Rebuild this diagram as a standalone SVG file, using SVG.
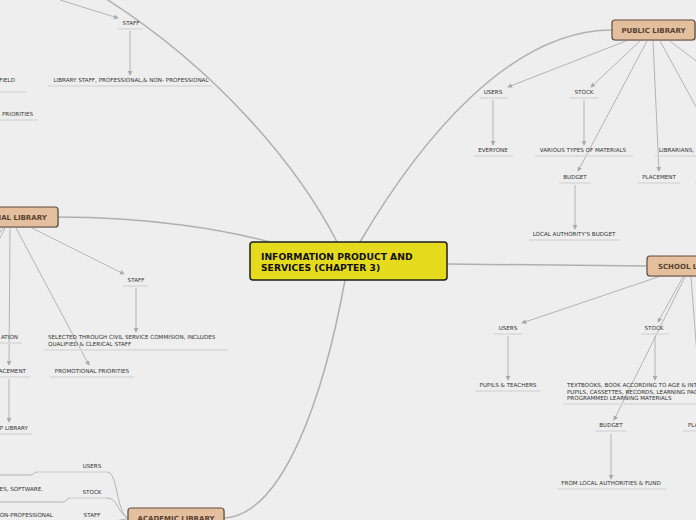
<svg xmlns="http://www.w3.org/2000/svg" width="696" height="520" viewBox="0 0 696 520">
<defs>
<marker id="ar" viewBox="0 0 6 6" refX="5" refY="3" markerWidth="5" markerHeight="5" orient="auto" markerUnits="userSpaceOnUse">
<path d="M0,0 L6,3 L0,6 z" fill="#aaaaaa"/>
</marker>
<style>
.bg{fill:#eeeeee}
.main{fill:none;stroke:#b0b0b0;stroke-width:1.5}
.con{fill:none;stroke:#b4b4b4;stroke-width:1}
.ul{fill:none;stroke:#d8d8d8;stroke-width:1.5}
.lab{font-family:"DejaVu Sans",Verdana,sans-serif;font-size:5.6px;fill:#333333}
.mid{text-anchor:middle}
.end{text-anchor:end}
.box{fill:#e3bf9d;stroke:#5e4c3c;stroke-width:1.2}
.shadow{fill:#9a9a9a;opacity:0.5}
.bt{font-family:"DejaVu Sans",Verdana,sans-serif;font-size:7px;font-weight:bold;fill:#5a4232;text-anchor:middle}
.ct{font-family:"DejaVu Sans",Verdana,sans-serif;font-size:9.2px;font-weight:bold;fill:#111111}
</style>
</defs>
<rect class="bg" x="0" y="0" width="696" height="520"/>

<g id="connectors">
<path class="main" d="M337,242 C300,170 220,70 100,-5"/>
<path class="main" d="M360,242 C420,140 510,30 612,30"/>
<path class="main" d="M58,217 C150,217 225,230 270,242"/>
<path class="main" d="M447,264 L647,266"/>
<path class="main" d="M345,280 C325,390 285,515 224,518"/>
<path class="con" d="M60,0 L118,18" marker-end="url(#ar)"/>
<path class="con" d="M130,31 L130,75" marker-end="url(#ar)"/>
<path class="con" d="M626,41 L508,87" marker-end="url(#ar)"/>
<path class="con" d="M640,41 L591,87" marker-end="url(#ar)"/>
<path class="con" d="M647,41 L578,171" marker-end="url(#ar)"/>
<path class="con" d="M653,41 L659,171" marker-end="url(#ar)"/>
<path class="con" d="M660,41 L700,114"/>
<path class="con" d="M670,41 L700,64"/>
<path class="con" d="M493,100 L493,145" marker-end="url(#ar)"/>
<path class="con" d="M584,100 L584,145" marker-end="url(#ar)"/>
<path class="con" d="M575,185 L575,229" marker-end="url(#ar)"/>
<path class="con" d="M658,277 L522,323" marker-end="url(#ar)"/>
<path class="con" d="M683,277 L658,322" marker-end="url(#ar)"/>
<path class="con" d="M685,277 L614,420" marker-end="url(#ar)"/>
<path class="con" d="M691,277 L702,420" marker-end="url(#ar)"/>
<path class="con" d="M508,336 L508,380" marker-end="url(#ar)"/>
<path class="con" d="M655,336 L655,380" marker-end="url(#ar)"/>
<path class="con" d="M611,434 L611,479" marker-end="url(#ar)"/>
<path class="con" d="M32,228 L124,274" marker-end="url(#ar)"/>
<path class="con" d="M136,288 L136,332" marker-end="url(#ar)"/>
<path class="con" d="M16,228 L89,365" marker-end="url(#ar)"/>
<path class="con" d="M10,228 L9,365" marker-end="url(#ar)"/>
<path class="con" d="M9,379 L9,422" marker-end="url(#ar)"/>
<path class="con" d="M5,228 L-2,242"/>
<path class="con" d="M3,228 L-4,238"/>
<path class="con" d="M0,475 L30,475 C34,475 33,472 38,472"/>
<path class="con" d="M107,472 C118,472 116,512 128,518"/>
<path class="con" d="M0,502 L63,502 C67,502 66,498 70,498"/>
<path class="con" d="M107,498 C118,498 118,514 128,518"/>
<path class="con" d="M107,522 C116,522 120,519 128,519"/>
</g>

<g id="center">
<rect x="250" y="242" width="197" height="38" rx="3" fill="#e6da1c" stroke="#1e1e1e" stroke-width="1.5"/>
<text class="ct" x="261" y="259.5">INFORMATION PRODUCT AND</text>
<text class="ct" x="261" y="271">SERVICES (CHAPTER 3)</text>
</g>

<g id="public-library">
<rect class="shadow" x="613" y="21" width="83" height="20" rx="3"/>
<rect class="box" x="612" y="20" width="83" height="20" rx="3"/>
<text class="bt" x="653.5" y="32.5">PUBLIC LIBRARY</text>
</g>
<g id="pub-users"><text class="lab mid" x="493" y="94">USERS</text><line class="ul" x1="480" y1="98" x2="508" y2="98"/></g>
<g id="pub-stock"><text class="lab mid" x="584" y="94">STOCK</text><line class="ul" x1="570" y1="98" x2="598" y2="98"/></g>
<g id="pub-everyone"><text class="lab mid" x="493" y="152">EVERYONE</text><line class="ul" x1="474" y1="156" x2="513" y2="156"/></g>
<g id="pub-materials"><text class="lab mid" x="583" y="152">VARIOUS TYPES OF MATERIALS</text><line class="ul" x1="535" y1="156" x2="633" y2="156"/></g>
<g id="pub-librarians"><text class="lab" x="659" y="152">LIBRARIANS,</text><line class="ul" x1="655" y1="156" x2="700" y2="156"/></g>
<g id="pub-budget"><text class="lab mid" x="575" y="179">BUDGET</text><line class="ul" x1="559" y1="183" x2="591" y2="183"/></g>
<g id="pub-placement"><text class="lab mid" x="659" y="179">PLACEMENT</text><line class="ul" x1="638" y1="183" x2="680" y2="183"/></g>
<g id="pub-right"><line class="ul" x1="695" y1="183" x2="700" y2="183"/></g>
<g id="pub-local"><text class="lab mid" x="574" y="236">LOCAL AUTHORITY'S BUDGET</text><line class="ul" x1="529" y1="240" x2="621" y2="240"/></g>

<g id="school-library">
<rect class="shadow" x="648" y="257" width="90" height="20" rx="3"/>
<rect class="box" x="647" y="256" width="90" height="20" rx="3"/>
<text class="bt" x="692" y="268.5">SCHOOL LIBRARY</text>
</g>
<g id="sch-users"><text class="lab mid" x="508" y="330">USERS</text><line class="ul" x1="494" y1="334" x2="522" y2="334"/></g>
<g id="sch-stock"><text class="lab mid" x="654" y="330">STOCK</text><line class="ul" x1="641" y1="334" x2="669" y2="334"/></g>
<g id="sch-pupils"><text class="lab mid" x="508" y="387">PUPILS &amp; TEACHERS</text><line class="ul" x1="475" y1="391" x2="541" y2="391"/></g>
<g id="sch-textbooks"><text class="lab" x="567" y="387">TEXTBOOKS, BOOK ACCORDING TO AGE &amp; INTEREST</text><text class="lab" x="567" y="393.5">PUPILS, CASSETTES, RECORDS, LEARNING PACKAGES</text><text class="lab" x="567" y="400">PROGRAMMED LEARNING MATERIALS</text><line class="ul" x1="563" y1="404" x2="700" y2="404"/></g>
<g id="sch-budget"><text class="lab mid" x="611" y="427">BUDGET</text><line class="ul" x1="595" y1="431" x2="627" y2="431"/></g>
<g id="sch-placement"><text class="lab" x="688" y="427">PLACEMENT</text><line class="ul" x1="683" y1="431" x2="720" y2="431"/></g>
<g id="sch-fund"><text class="lab mid" x="611" y="485">FROM LOCAL AUTHORITIES &amp; FUND</text><line class="ul" x1="557" y1="489" x2="666" y2="489"/></g>

<g id="national-library">
<rect class="shadow" x="-41" y="208" width="100" height="20" rx="3"/>
<rect class="box" x="-42" y="207" width="100" height="20" rx="3"/>
<text class="bt" x="9" y="219.5">NATIONAL LIBRARY</text>
</g>
<g id="nat-staff"><text class="lab mid" x="136" y="282">STAFF</text><line class="ul" x1="123" y1="286" x2="148" y2="286"/></g>
<g id="nat-selected"><text class="lab" x="48" y="339">SELECTED THROUGH  CIVIL SERVICE COMMISION, INCLUDES</text><text class="lab" x="48" y="346">QUALIFIED &amp; CLERICAL STAFF</text><line class="ul" x1="44" y1="350" x2="228" y2="350"/></g>
<g id="nat-promo"><text class="lab mid" x="92" y="373">PROMOTIONAL PRIORITIES</text><line class="ul" x1="50" y1="377" x2="134" y2="377"/></g>
<g id="nat-ation"><text class="lab end" x="18" y="339">ATION</text><line class="ul" x1="-5" y1="343" x2="22" y2="343"/></g>
<g id="nat-placement"><text class="lab end" x="26" y="373">PLACEMENT</text><line class="ul" x1="-5" y1="377" x2="30" y2="377"/></g>
<g id="nat-library"><text class="lab end" x="28" y="430">P LIBRARY</text><line class="ul" x1="-5" y1="434" x2="32" y2="434"/></g>

<g id="top-staff"><text class="lab mid" x="131" y="25">STAFF</text><line class="ul" x1="118" y1="29" x2="143" y2="29"/></g>
<g id="top-library-staff"><text class="lab mid" x="131" y="82">LIBRARY STAFF, PROFESSIONAL,&amp; NON- PROFESSIONAL</text><line class="ul" x1="48" y1="86" x2="212" y2="86"/></g>
<g id="top-field"><text class="lab end" x="15" y="82">FIELD</text><line class="ul" x1="-5" y1="92" x2="27" y2="92"/></g>
<g id="top-priorities"><text class="lab end" x="33" y="116">PRIORITIES</text><line class="ul" x1="-5" y1="120" x2="38" y2="120"/></g>

<g id="academic-library">
<rect class="shadow" x="129" y="509" width="96" height="20" rx="3"/>
<rect class="box" x="128" y="508" width="96" height="20" rx="3"/>
<text class="bt" x="176" y="521">ACADEMIC LIBRARY</text>
</g>
<g id="aca-users"><text class="lab mid" x="92" y="468">USERS</text><line class="ul" x1="38" y1="472" x2="107" y2="472"/></g>
<g id="aca-stock"><text class="lab mid" x="92" y="494">STOCK</text><line class="ul" x1="70" y1="498" x2="107" y2="498"/></g>
<g id="aca-software"><text class="lab end" x="43" y="491">ES, SOFTWARE.</text></g>
<g id="aca-staff"><text class="lab mid" x="92" y="517">STAFF</text><line class="ul" x1="70" y1="522" x2="107" y2="522"/></g>
<g id="aca-nonprof"><text class="lab end" x="53" y="517">ON-PROFESSIONAL</text></g>
</svg>
